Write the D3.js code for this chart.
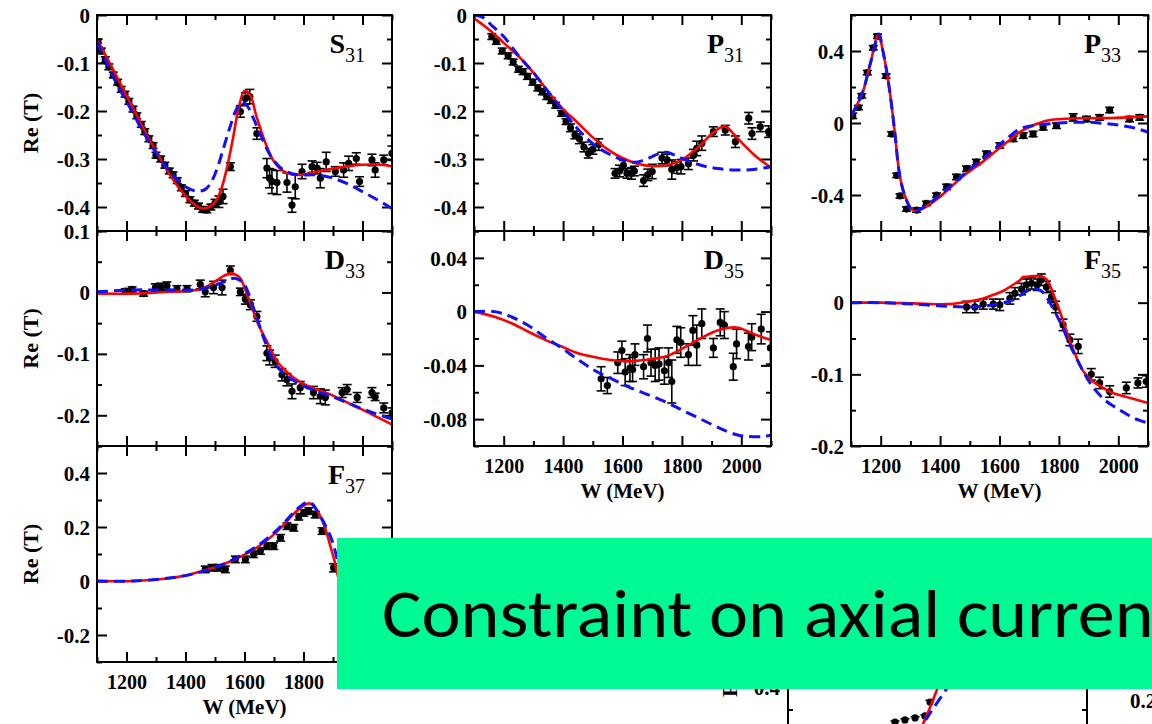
<!DOCTYPE html>
<html><head><meta charset="utf-8">
<script src="https://cdn.jsdelivr.net/npm/d3@7"></script>
<style>body{margin:0;background:#fff;overflow:hidden} svg{display:block}</style>
</head><body>
<svg id="c" width="1152" height="724"></svg>
<script>
// ---------- shared axis ticks ----------
const W_MAJOR = [1200, 1400, 1600, 1800, 2000];
const W_MINOR = [1100, 1300, 1500, 1700, 1900, 2100];
const W_LABELS = ["1200", "1400", "1600", "1800", "2000"];

// ---------- S31 ----------
const S31_W = [1104,1115,1128,1140,1155,1170,1182,1195,1208,1222,1235,1250,1262,1276,1290,1300,1316,1330,1345,1358,1372,1386,1400,1415,1430,1444,1458,1472,1486,1500,1513,1527,1552,1586,1603,1618,1642,1676,1685,1693,1710,1744,1761,1772,1795,1829,1846,1857,1877,1908,1936,1953,1979,1990,2032,2043,2072,2100];
const S31_RE = [-0.058,-0.075,-0.093,-0.108,-0.125,-0.140,-0.155,-0.165,-0.180,-0.196,-0.210,-0.228,-0.243,-0.258,-0.272,-0.292,-0.300,-0.313,-0.325,-0.333,-0.345,-0.360,-0.372,-0.385,-0.392,-0.398,-0.405,-0.406,-0.400,-0.392,-0.389,-0.378,-0.316,-0.201,-0.174,-0.170,-0.247,-0.319,-0.340,-0.347,-0.349,-0.349,-0.396,-0.358,-0.326,-0.316,-0.319,-0.340,-0.306,-0.326,-0.323,-0.309,-0.299,-0.347,-0.302,-0.323,-0.302,-0.288];
const S31_ERR = [0.008,0.006,0.006,0.006,0.006,0.006,0.006,0.006,0.006,0.006,0.006,0.006,0.006,0.006,0.006,0.006,0.006,0.006,0.006,0.006,0.006,0.006,0.006,0.006,0.006,0.006,0.006,0.006,0.006,0.008,0.012,0.015,0.008,0.012,0.012,0.015,0.012,0.02,0.02,0.025,0.025,0.02,0.015,0.025,0.015,0.012,0.012,0.02,0.02,0.01,0.015,0.015,0.012,0.01,0.012,0.015,0.01,0.015];
const S31_RED_W = [1100,1130,1160,1200,1240,1280,1320,1360,1400,1440,1460,1480,1500,1520,1540,1560,1580,1600,1620,1640,1670,1700,1740,1790,1850,1920,2000,2060,2100];
const S31_RED = [-0.052,-0.085,-0.12,-0.168,-0.215,-0.262,-0.305,-0.345,-0.377,-0.399,-0.403,-0.4,-0.39,-0.365,-0.32,-0.26,-0.195,-0.158,-0.168,-0.21,-0.265,-0.305,-0.328,-0.333,-0.326,-0.318,-0.312,-0.312,-0.315];
const S31_BLUE_W = [1100,1130,1160,1200,1240,1280,1320,1360,1400,1430,1450,1470,1490,1510,1530,1550,1570,1590,1610,1630,1660,1690,1730,1780,1840,1900,1950,2000,2050,2100];
const S31_BLUE = [-0.056,-0.095,-0.135,-0.18,-0.225,-0.268,-0.305,-0.335,-0.358,-0.366,-0.367,-0.362,-0.345,-0.315,-0.275,-0.235,-0.2,-0.181,-0.19,-0.215,-0.258,-0.295,-0.322,-0.333,-0.333,-0.34,-0.352,-0.368,-0.385,-0.403];

// ---------- P31 ----------
const P31_W = [1160,1175,1195,1215,1232,1250,1265,1280,1298,1315,1330,1345,1360,1375,1395,1410,1425,1440,1455,1470,1485,1500,1520,1575,1590,1603,1615,1630,1640,1671,1685,1700,1733,1750,1766,1783,1797,1822,1839,1850,1867,1906,1946,1980,2025,2036,2064,2092];
const P31_RE = [-0.045,-0.055,-0.075,-0.085,-0.098,-0.113,-0.118,-0.128,-0.14,-0.152,-0.16,-0.17,-0.178,-0.188,-0.205,-0.222,-0.235,-0.25,-0.258,-0.275,-0.288,-0.28,-0.27,-0.33,-0.325,-0.313,-0.33,-0.33,-0.325,-0.345,-0.333,-0.326,-0.298,-0.302,-0.322,-0.318,-0.316,-0.31,-0.292,-0.278,-0.267,-0.243,-0.24,-0.264,-0.215,-0.247,-0.233,-0.243];
const P31_ERR = [0.006,0.006,0.006,0.006,0.006,0.006,0.006,0.006,0.006,0.006,0.006,0.006,0.006,0.006,0.006,0.006,0.008,0.008,0.01,0.01,0.01,0.01,0.012,0.01,0.012,0.01,0.01,0.012,0.01,0.012,0.012,0.015,0.012,0.012,0.02,0.012,0.015,0.012,0.012,0.015,0.015,0.01,0.01,0.012,0.012,0.012,0.01,0.012];
const P31_RED_W = [1100,1150,1200,1250,1300,1350,1400,1450,1500,1550,1600,1650,1700,1750,1800,1850,1900,1925,1946,1970,2000,2050,2100];
const P31_RED = [-0.007,-0.03,-0.058,-0.086,-0.12,-0.16,-0.196,-0.225,-0.255,-0.28,-0.298,-0.31,-0.315,-0.313,-0.302,-0.278,-0.248,-0.236,-0.232,-0.245,-0.265,-0.295,-0.318];
const P31_BLUE_W = [1100,1130,1160,1200,1250,1300,1350,1400,1450,1500,1550,1600,1640,1670,1700,1730,1750,1780,1820,1870,1920,1980,2040,2100];
const P31_BLUE = [0,-0.005,-0.022,-0.045,-0.085,-0.12,-0.16,-0.2,-0.238,-0.268,-0.288,-0.302,-0.307,-0.303,-0.295,-0.287,-0.286,-0.293,-0.304,-0.314,-0.32,-0.323,-0.322,-0.316];

// ---------- P33 ----------
const P33_W = [1106,1125,1136,1155,1175,1189,1218,1237,1254,1265,1287,1321,1354,1388,1422,1455,1489,1522,1556,1601,1646,1680,1713,1747,1792,1848,1893,1937,1971,2038,2072];
const P33_RE = [0.04,0.086,0.151,0.28,0.418,0.482,0.261,-0.061,-0.291,-0.405,-0.478,-0.484,-0.447,-0.401,-0.355,-0.3,-0.254,-0.217,-0.171,-0.125,-0.088,-0.07,-0.061,-0.024,-0.015,0.031,0.022,0.031,0.072,0.022,0.031];
const P33_ERR = [0.015,0.012,0.012,0.012,0.012,0.012,0.012,0.012,0.012,0.012,0.012,0.012,0.012,0.012,0.015,0.015,0.015,0.015,0.015,0.015,0.015,0.015,0.015,0.015,0.015,0.02,0.015,0.015,0.015,0.015,0.015];
const P33_RED_W = [1100,1120,1141,1165,1192,1205,1220,1235,1248,1265,1287,1310,1343,1399,1450,1489,1540,1590,1630,1668,1710,1758,1810,1870,1930,1982,2040,2100];
const P33_RED = [0.031,0.1,0.178,0.33,0.491,0.42,0.289,0.12,-0.061,-0.3,-0.428,-0.487,-0.474,-0.41,-0.335,-0.281,-0.22,-0.153,-0.1,-0.051,-0.015,0.013,0.022,0.026,0.027,0.028,0.032,0.037];
const P33_BLUE_W = [1100,1120,1141,1165,1195,1205,1220,1235,1248,1265,1287,1310,1343,1399,1450,1489,1540,1590,1630,1668,1710,1758,1800,1848,1900,1937,1980,2016,2060,2100];
const P33_BLUE = [0.04,0.1,0.18,0.33,0.495,0.42,0.289,0.12,-0.061,-0.3,-0.43,-0.49,-0.47,-0.4,-0.33,-0.27,-0.205,-0.134,-0.08,-0.033,-0.015,-0.006,0,0.004,0.004,0,-0.007,-0.015,-0.03,-0.051];

// ---------- D33 ----------
const D33_W = [1196,1219,1258,1298,1315,1337,1371,1405,1450,1467,1495,1524,1552,1586,1603,1620,1642,1676,1685,1704,1727,1744,1761,1789,1834,1857,1874,1931,1948,1982,2032,2043,2072,2100];
const D33_RE = [0.002,0.005,-0.002,0.008,0.009,0.011,0.006,0.006,0.013,0.001,0.008,0.008,0.036,0.001,-0.011,-0.02,-0.039,-0.099,-0.106,-0.112,-0.134,-0.142,-0.161,-0.155,-0.163,-0.169,-0.171,-0.163,-0.158,-0.171,-0.163,-0.17,-0.188,-0.196];
const D33_ERR = [0.004,0.004,0.004,0.006,0.006,0.006,0.005,0.005,0.007,0.008,0.01,0.012,0.007,0.006,0.008,0.008,0.008,0.012,0.012,0.01,0.01,0.01,0.012,0.01,0.01,0.012,0.012,0.008,0.008,0.008,0.008,0.006,0.008,0.008];
const D33_RED_W = [1100,1224,1337,1450,1507,1530,1552,1570,1586,1600,1614,1630,1642,1660,1676,1693,1710,1740,1767,1800,1846,1900,1960,2030,2100];
const D33_RED = [-0.002,-0.002,0.001,0.005,0.02,0.027,0.031,0.029,0.023,0.008,-0.01,-0.03,-0.047,-0.065,-0.08,-0.097,-0.112,-0.128,-0.139,-0.149,-0.158,-0.168,-0.182,-0.198,-0.215];
const D33_BLUE_W = [1100,1224,1337,1450,1518,1545,1563,1580,1597,1614,1631,1648,1665,1682,1699,1720,1744,1790,1846,1900,1960,2030,2100];
const D33_BLUE = [0.001,0.004,0.004,0.005,0.015,0.02,0.023,0.021,0.015,-0.002,-0.026,-0.05,-0.074,-0.095,-0.112,-0.126,-0.136,-0.15,-0.161,-0.17,-0.182,-0.195,-0.206];

// ---------- D35 ----------
const D35_W = [1528,1549,1584,1598,1609,1625,1634,1642,1671,1684,1696,1710,1723,1741,1755,1766,1783,1796,1822,1837,1850,1867,1906,1929,1943,1973,1984,2024,2035,2067,2098];
const D35_RE = [-0.05,-0.055,-0.038,-0.029,-0.045,-0.042,-0.043,-0.032,-0.041,-0.02,-0.038,-0.04,-0.039,-0.044,-0.038,-0.052,-0.021,-0.023,-0.032,-0.014,-0.025,-0.009,-0.027,-0.008,-0.01,-0.041,-0.024,-0.026,-0.019,-0.013,-0.027];
const D35_ERR = [0.009,0.006,0.008,0.007,0.01,0.01,0.009,0.008,0.009,0.01,0.01,0.012,0.012,0.01,0.011,0.016,0.01,0.011,0.008,0.011,0.015,0.011,0.007,0.01,0.01,0.01,0.011,0.01,0.01,0.011,0.012];
const D35_RED_W = [1100,1171,1230,1283,1340,1395,1450,1508,1560,1620,1670,1710,1750,1789,1830,1879,1920,1957,1990,2014,2058,2098];
const D35_RED = [0,-0.004,-0.009,-0.015,-0.021,-0.026,-0.031,-0.034,-0.036,-0.037,-0.036,-0.035,-0.033,-0.029,-0.024,-0.018,-0.014,-0.012,-0.012,-0.014,-0.018,-0.021];
const D35_BLUE_W = [1100,1171,1227,1280,1339,1395,1452,1508,1564,1620,1676,1733,1789,1845,1901,1950,1991,2030,2070,2100];
const D35_BLUE = [0,0,-0.004,-0.01,-0.019,-0.027,-0.036,-0.044,-0.05,-0.056,-0.061,-0.066,-0.072,-0.078,-0.084,-0.089,-0.092,-0.093,-0.093,-0.092];

// ---------- F35 ----------
const F35_W = [1489,1517,1545,1579,1601,1635,1652,1674,1691,1708,1727,1741,1758,1775,1789,1814,1837,1865,1909,1937,1971,2027,2066,2094];
const F35_RE = [-0.006,-0.006,-0.002,-0.002,-0.003,0.006,0.013,0.019,0.025,0.027,0.025,0.032,0.022,0.008,-0.006,-0.031,-0.052,-0.061,-0.1,-0.112,-0.124,-0.119,-0.112,-0.11];
const F35_ERR = [0.008,0.008,0.007,0.007,0.008,0.008,0.008,0.008,0.008,0.008,0.008,0.008,0.008,0.008,0.008,0.008,0.008,0.01,0.008,0.008,0.008,0.008,0.007,0.008];
const F35_RED_W = [1100,1200,1310,1422,1489,1540,1579,1615,1646,1668,1680,1690,1713,1747,1760,1769,1785,1803,1820,1837,1855,1870,1890,1915,1950,1982,2040,2100];
const F35_RED = [0,0,-0.001,-0.002,0.001,0.005,0.011,0.017,0.025,0.031,0.036,0.036,0.037,0.036,0.032,0.025,0.008,-0.012,-0.033,-0.054,-0.072,-0.087,-0.1,-0.11,-0.119,-0.126,-0.133,-0.14];
const F35_BLUE_W = [1100,1200,1310,1422,1489,1540,1579,1615,1646,1670,1691,1710,1725,1742,1758,1775,1792,1815,1837,1860,1882,1905,1927,1955,1982,2010,2038,2070,2100];
const F35_BLUE = [0,0,-0.002,-0.005,-0.006,-0.005,-0.003,0,0.004,0.01,0.016,0.019,0.019,0.016,0.008,-0.004,-0.017,-0.037,-0.059,-0.078,-0.096,-0.112,-0.124,-0.136,-0.144,-0.151,-0.158,-0.164,-0.168];

// ---------- F37 ----------
const F37_W = [1467,1490,1512,1535,1569,1603,1631,1654,1676,1699,1722,1744,1767,1784,1801,1818,1840,1863,1902];
const F37_RE = [0.043,0.049,0.049,0.043,0.08,0.08,0.099,0.111,0.129,0.129,0.16,0.203,0.197,0.238,0.252,0.259,0.246,0.185,0.049];
const F37_ERR = [0.012,0.012,0.012,0.012,0.012,0.012,0.012,0.012,0.012,0.012,0.012,0.012,0.012,0.012,0.012,0.012,0.012,0.012,0.015];
const F37_RED_W = [1100,1224,1337,1400,1450,1510,1563,1610,1654,1695,1733,1765,1789,1810,1823,1840,1857,1875,1891,1905,1914,1925];
const F37_RED = [0,0,0.009,0.02,0.035,0.055,0.078,0.103,0.133,0.168,0.208,0.247,0.27,0.285,0.287,0.272,0.24,0.19,0.129,0.075,0.031,-0.02];
const F37_BLUE_W = [1100,1224,1337,1400,1450,1510,1563,1610,1654,1695,1733,1765,1789,1812,1830,1846,1870,1891,1905,1914,1925];
const F37_BLUE = [0,0,0.01,0.02,0.033,0.054,0.08,0.107,0.138,0.174,0.214,0.252,0.276,0.292,0.285,0.259,0.215,0.166,0.12,0.08,0.03];

// ---------- partially hidden panel behind the banner ----------
const HID_W = [1458,1491,1525,1558,1575];
const HID_RE = [0.245,0.255,0.264,0.273,0.336];
const HID_ERR = [0.005,0.005,0.005,0.005,0.008];
const HID_RED_W = [1500,1551,1598,1630];
const HID_RED = [0.12,0.236,0.391,0.5];
const HID_BLUE_W = [1530,1575,1632,1660];
const HID_BLUE = [0.19,0.286,0.4,0.47];

const BANNER_TEXT = "Constraint on axial current";

// ================= drawing =================
const svg = d3.select("#c");
const SERIF = "'Liberation Serif','Times New Roman',serif";
let clipId = 0;

function zip(ws, vs, es) { return ws.map((w, i) => ({w, v: vs[i], e: es ? es[i] : 0})); }

function drawPanel(p) {
  const x = d3.scaleLinear().domain([1100, 2100]).range([p.x0, p.x1]);
  const y = d3.scaleLinear().domain(p.yDomain).range([p.y1, p.y0]);
  const g = svg.append("g");
  const id = "clip" + (clipId++);
  svg.append("clipPath").attr("id", id).append("rect")
    .attr("x", p.x0).attr("y", p.y0).attr("width", p.x1 - p.x0).attr("height", p.y1 - p.y0);

  const tickSets = [
    {vals: W_MAJOR, len: 10, horiz: true}, {vals: W_MINOR, len: 5, horiz: true},
    {vals: p.yMajor, len: 10, horiz: false}, {vals: p.yMinor, len: 5, horiz: false}
  ];
  tickSets.forEach(t => {
    if (t.horiz) {
      g.append("g").attr("transform", `translate(0,${p.y1})`)
        .call(d3.axisBottom(x).tickValues(t.vals).tickSize(-t.len).tickFormat(""));
      g.append("g").attr("transform", `translate(0,${p.y0})`)
        .call(d3.axisTop(x).tickValues(t.vals).tickSize(-t.len).tickFormat(""));
    } else {
      g.append("g").attr("transform", `translate(${p.x0},0)`)
        .call(d3.axisLeft(y).tickValues(t.vals).tickSize(-t.len).tickFormat(""));
      g.append("g").attr("transform", `translate(${p.x1},0)`)
        .call(d3.axisRight(y).tickValues(t.vals).tickSize(-t.len).tickFormat(""));
    }
  });
  g.selectAll(".domain").remove();
  g.selectAll(".tick line").attr("stroke", "#000").attr("stroke-width", 2);

  const yl = d3.axisLeft(y).tickValues(p.yLabelVals).tickSize(0).tickPadding(7)
    .tickFormat((d, i) => p.yLabels[i]);
  const ylg = g.append("g").attr("transform", `translate(${p.x0},0)`).call(yl);
  ylg.select(".domain").remove();
  ylg.selectAll("text").attr("font-family", SERIF).attr("font-weight", "bold")
    .attr("font-size", 21).attr("fill", "#000").attr("dy", "0.34em");

  if (p.xLabels) {
    const xl = d3.axisBottom(x).tickValues(W_MAJOR).tickSize(0).tickPadding(0)
      .tickFormat((d, i) => W_LABELS[i]);
    const xlg = g.append("g").attr("transform", `translate(0,${p.y1})`).call(xl);
    xlg.select(".domain").remove();
    xlg.selectAll("text").attr("font-family", SERIF).attr("font-weight", "bold")
      .attr("font-size", 20).attr("fill", "#000").attr("dy", 0).attr("y", 27);
    g.append("text").attr("x", (p.x0 + p.x1) / 2).attr("y", p.y1 + 52)
      .attr("text-anchor", "middle").attr("font-family", SERIF).attr("font-weight", "bold")
      .attr("font-size", 21).text("W (MeV)");
  }
  if (p.yTitle) {
    g.append("text").attr("transform", `translate(38,${(p.y0 + p.y1) / 2}) rotate(-90)`)
      .attr("text-anchor", "middle").attr("font-family", SERIF).attr("font-weight", "bold")
      .attr("font-size", 22).text("Re (T)");
  }

  const dg = g.append("g").attr("clip-path", `url(#${id})`);
  const pts = zip(p.w, p.re, p.err);
  const eb = dg.append("g").attr("stroke", "#000").attr("stroke-width", 1.6).attr("fill", "none");
  pts.forEach(d => {
    const cx = x(d.w), ya = y(d.v + d.e), yb = y(d.v - d.e);
    eb.append("line").attr("x1", cx).attr("x2", cx).attr("y1", ya).attr("y2", yb);
    eb.append("line").attr("x1", cx - 4.5).attr("x2", cx + 4.5).attr("y1", ya).attr("y2", ya);
    eb.append("line").attr("x1", cx - 4.5).attr("x2", cx + 4.5).attr("y1", yb).attr("y2", yb);
  });
  dg.append("g").selectAll("circle").data(pts).join("circle")
    .attr("cx", d => x(d.w)).attr("cy", d => y(d.v)).attr("r", 3.6).attr("fill", "#000");

  const line = d3.line().x(d => x(d.w)).y(d => y(d.v)).curve(d3.curveCatmullRom.alpha(0.5));
  dg.append("path").attr("d", line(zip(p.redW, p.red))).attr("fill", "none")
    .attr("stroke", "#ff0000").attr("stroke-width", 2.6);
  dg.append("path").attr("d", line(zip(p.blueW, p.blue))).attr("fill", "none")
    .attr("stroke", "#1010ff").attr("stroke-width", 3).attr("stroke-dasharray", "11,6");

  g.append("rect").attr("x", p.x0).attr("y", p.y0).attr("width", p.x1 - p.x0).attr("height", p.y1 - p.y0)
    .attr("fill", "none").attr("stroke", "#000").attr("stroke-width", 2);

  if (p.name) {
    const t = g.append("text").attr("x", p.x1 - 27).attr("y", p.y0 + 38).attr("text-anchor", "end")
      .attr("font-family", SERIF).attr("font-weight", "bold").attr("font-size", 28);
    t.append("tspan").text(p.name);
    t.append("tspan").attr("font-size", 20).attr("font-weight", "normal").attr("dy", 9).text(p.sub);
  }
}

const C1 = [97, 392], C2 = [474, 771], C3 = [851, 1148];
const R1 = [15, 231], R2 = [231, 446], R3 = [446, 662];

drawPanel({x0: C1[0], x1: C1[1], y0: R1[0], y1: R1[1], yDomain: [-0.45, 0],
  yMajor: [0, -0.1, -0.2, -0.3, -0.4], yMinor: [-0.05, -0.15, -0.25, -0.35, -0.45],
  yLabelVals: [0, -0.1, -0.2, -0.3, -0.4], yLabels: ["0", "-0.1", "-0.2", "-0.3", "-0.4"],
  yTitle: true, name: "S", sub: "31",
  w: S31_W, re: S31_RE, err: S31_ERR, redW: S31_RED_W, red: S31_RED, blueW: S31_BLUE_W, blue: S31_BLUE});
drawPanel({x0: C2[0], x1: C2[1], y0: R1[0], y1: R1[1], yDomain: [-0.45, 0],
  yMajor: [0, -0.1, -0.2, -0.3, -0.4], yMinor: [-0.05, -0.15, -0.25, -0.35, -0.45],
  yLabelVals: [0, -0.1, -0.2, -0.3, -0.4], yLabels: ["0", "-0.1", "-0.2", "-0.3", "-0.4"],
  name: "P", sub: "31",
  w: P31_W, re: P31_RE, err: P31_ERR, redW: P31_RED_W, red: P31_RED, blueW: P31_BLUE_W, blue: P31_BLUE});
drawPanel({x0: C3[0], x1: C3[1], y0: R1[0], y1: R1[1], yDomain: [-0.6, 0.6],
  yMajor: [0.4, 0, -0.4], yMinor: [0.6, 0.2, -0.2, -0.6],
  yLabelVals: [0.4, 0, -0.4], yLabels: ["0.4", "0", "-0.4"],
  name: "P", sub: "33",
  w: P33_W, re: P33_RE, err: P33_ERR, redW: P33_RED_W, red: P33_RED, blueW: P33_BLUE_W, blue: P33_BLUE});
drawPanel({x0: C1[0], x1: C1[1], y0: R2[0], y1: R2[1], yDomain: [-0.25, 0.1],
  yMajor: [0.1, 0, -0.1, -0.2], yMinor: [0.05, -0.05, -0.15, -0.25],
  yLabelVals: [0.1, 0, -0.1, -0.2], yLabels: ["0.1", "0", "-0.1", "-0.2"],
  yTitle: true, name: "D", sub: "33",
  w: D33_W, re: D33_RE, err: D33_ERR, redW: D33_RED_W, red: D33_RED, blueW: D33_BLUE_W, blue: D33_BLUE});
drawPanel({x0: C2[0], x1: C2[1], y0: R2[0], y1: R2[1], yDomain: [-0.1, 0.06],
  yMajor: [0.04, 0, -0.04, -0.08], yMinor: [0.06, 0.02, -0.02, -0.06, -0.1],
  yLabelVals: [0.04, 0, -0.04, -0.08], yLabels: ["0.04", "0", "-0.04", "-0.08"],
  xLabels: true, name: "D", sub: "35",
  w: D35_W, re: D35_RE, err: D35_ERR, redW: D35_RED_W, red: D35_RED, blueW: D35_BLUE_W, blue: D35_BLUE});
drawPanel({x0: C3[0], x1: C3[1], y0: R2[0], y1: R2[1], yDomain: [-0.2, 0.1],
  yMajor: [0.1, 0, -0.1, -0.2], yMinor: [0.05, -0.05, -0.15],
  yLabelVals: [0, -0.1, -0.2], yLabels: ["0", "-0.1", "-0.2"],
  xLabels: true, name: "F", sub: "35",
  w: F35_W, re: F35_RE, err: F35_ERR, redW: F35_RED_W, red: F35_RED, blueW: F35_BLUE_W, blue: F35_BLUE});
drawPanel({x0: C1[0], x1: C1[1], y0: R3[0], y1: R3[1], yDomain: [-0.3, 0.5],
  yMajor: [0.4, 0.2, 0, -0.2], yMinor: [0.5, 0.3, 0.1, -0.1, -0.3],
  yLabelVals: [0.4, 0.2, 0, -0.2], yLabels: ["0.4", "0.2", "0", "-0.2"],
  yTitle: true, xLabels: true, name: "F", sub: "37",
  w: F37_W, re: F37_RE, err: F37_ERR, redW: F37_RED_W, red: F37_RED, blueW: F37_BLUE_W, blue: F37_BLUE});

// partially hidden panel of a lower figure (mostly covered by the banner)
(function () {
  const x0 = 788, x1 = 1087, y0 = 600, y1 = 780;
  const x = d3.scaleLinear().domain([1100, 2100]).range([x0, x1]);
  const y = d3.scaleLinear().domain([0.4, 0.3]).range([688, 710]);
  const g = svg.append("g");
  g.append("line").attr("x1", x0).attr("x2", x0).attr("y1", y0).attr("y2", y1).attr("stroke", "#000").attr("stroke-width", 2);
  g.append("line").attr("x1", x1).attr("x2", x1).attr("y1", y0).attr("y2", y1).attr("stroke", "#000").attr("stroke-width", 2);
  [[0.4, 10], [0.3, 5]].forEach(([v, l]) => {
    g.append("line").attr("x1", x0).attr("x2", x0 + l).attr("y1", y(v)).attr("y2", y(v)).attr("stroke", "#000").attr("stroke-width", 2);
    g.append("line").attr("x1", x1 - l).attr("x2", x1).attr("y1", y(v)).attr("y2", y(v)).attr("stroke", "#000").attr("stroke-width", 2);
  });
  g.append("text").attr("x", x0 - 8).attr("y", y(0.4)).attr("dy", "0.34em").attr("text-anchor", "end")
    .attr("font-family", SERIF).attr("font-weight", "bold").attr("font-size", 21).text("0.4");
  g.append("text").attr("transform", `translate(737,697) rotate(-90)`).attr("text-anchor", "start")
    .attr("font-family", SERIF).attr("font-weight", "bold").attr("font-size", 22).text("Re (T)");
  g.append("text").attr("x", 1130).attr("y", 708).attr("text-anchor", "start")
    .attr("font-family", SERIF).attr("font-weight", "bold").attr("font-size", 21).text("0.2");
  const pts = zip(HID_W, HID_RE, HID_ERR);
  pts.forEach(d => {
    const cx = x(d.w);
    g.append("line").attr("x1", cx).attr("x2", cx).attr("y1", y(d.v + d.e)).attr("y2", y(d.v - d.e)).attr("stroke", "#000").attr("stroke-width", 1.6);
    g.append("line").attr("x1", cx - 4.5).attr("x2", cx + 4.5).attr("y1", y(d.v + d.e)).attr("y2", y(d.v + d.e)).attr("stroke", "#000").attr("stroke-width", 1.6);
  });
  g.selectAll("circle").data(pts).join("circle").attr("cx", d => x(d.w)).attr("cy", d => y(d.v)).attr("r", 3.6).attr("fill", "#000");
  const line = d3.line().x(d => x(d.w)).y(d => y(d.v)).curve(d3.curveCatmullRom.alpha(0.5));
  g.append("path").attr("d", line(zip(HID_RED_W, HID_RED))).attr("fill", "none").attr("stroke", "#ff0000").attr("stroke-width", 2.6);
  g.append("path").attr("d", line(zip(HID_BLUE_W, HID_BLUE))).attr("fill", "none").attr("stroke", "#1010ff").attr("stroke-width", 3).attr("stroke-dasharray", "11,6");
})();

// banner
svg.append("rect").attr("x", 337).attr("y", 538).attr("width", 815).attr("height", 151).attr("fill", "#00f992");
const bt = svg.append("text").attr("font-family", "Carlito, Calibri, 'Open Sans', sans-serif")
  .attr("font-size", 67).attr("fill", "#000").text(BANNER_TEXT);
const sub = bt.node().getSubStringLength(0, 26);
bt.attr("transform", `translate(382,637) scale(${771 / sub},1)`);
</script>
</body></html>
